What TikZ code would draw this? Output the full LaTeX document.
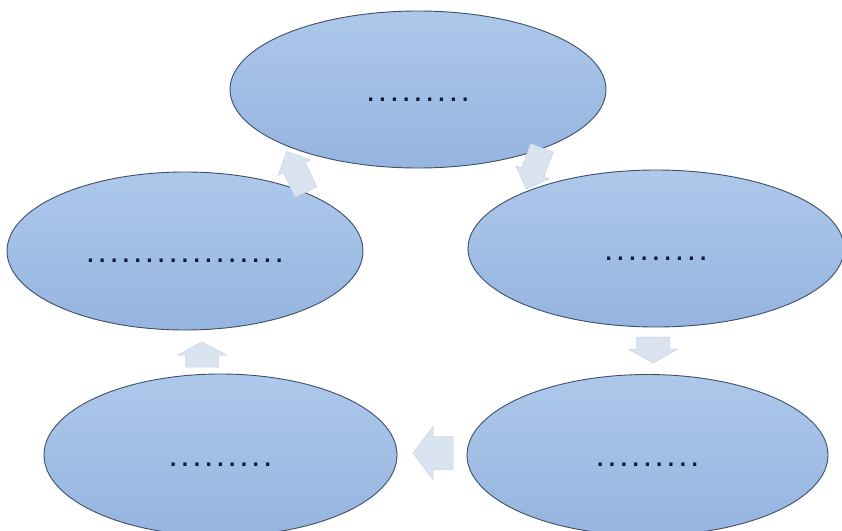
\documentclass[tikz,border=0pt]{standalone}
\usepackage{fontspec}
\newfontfamily\dotfont{DejaVu Sans Mono}
\usetikzlibrary{shapes.geometric}
\definecolor{ellTop}{HTML}{ADC8EA}
\definecolor{ellBot}{HTML}{95B4DF}
\definecolor{ellLine}{HTML}{3E4F68}
\definecolor{dotCol}{HTML}{0E1A33}
\definecolor{arrFill}{HTML}{DAE4F1}
\definecolor{arrLine}{HTML}{C6D4E8}
\tikzset{
  stage/.style={ellipse, draw=ellLine, line width=0.9pt, top color=ellTop,
    bottom color=ellBot, inner sep=0pt, text=dotCol,
    font=\dotfont\bfseries\fontsize{19.6}{20}\selectfont,
    text height=23pt, text depth=0pt},
  blockarrow/.style={fill=arrFill, draw=arrLine, line width=0.5pt, line join=miter}
}
\begin{document}
\begin{tikzpicture}[x=1pt,y=-1pt]
\useasboundingbox (0,0) rectangle (842,530);
\fill[white] (0,0) rectangle (842,530);
% stages
\node[stage, minimum width=376pt, minimum height=157pt] (top) at (418,89.5) {.........};
\node[stage, minimum width=376pt, minimum height=157pt] (right) at (656,248.5) {.........};
\node[stage, minimum width=361pt, minimum height=161pt] (botright) at (647.5,455) {.........};
\node[stage, minimum width=353pt, minimum height=162pt] (botleft) at (220.5,455) {.........};
\node[stage, minimum width=356pt, minimum height=158pt] (left) at (185,251) {.................};
% cycle arrows
\begin{scope}[shift={(542,148)}, rotate=-111]
  \draw[blockarrow] (0,-12) -- (26,-12) -- (26,-18) -- (44,0) -- (26,18) -- (26,12) -- (0,12) -- cycle;
\end{scope}
\begin{scope}[shift={(653,337)}, rotate=-90]
  \draw[blockarrow] (0,-16.5) -- (12,-16.5) -- (12,-25) -- (26,0) -- (12,25) -- (12,16.5) -- (0,16.5) -- cycle;
\end{scope}
\begin{scope}[shift={(453,453)}, rotate=180]
  \draw[blockarrow] (0,-16.5) -- (20,-16.5) -- (20,-26.5) -- (40,0) -- (20,26.5) -- (20,16.5) -- (0,16.5) -- cycle;
\end{scope}
\begin{scope}[shift={(202,367)}, rotate=90]
  \draw[blockarrow] (0,-16.5) -- (12,-16.5) -- (12,-24.5) -- (25,0) -- (12,24.5) -- (12,16.5) -- (0,16.5) -- cycle;
\end{scope}
\begin{scope}[shift={(306,192)}, rotate=115.5]
  \draw[blockarrow] (0,-12) -- (27,-12) -- (27,-18) -- (45,0) -- (27,18) -- (27,12) -- (0,12) -- cycle;
\end{scope}
\end{tikzpicture}
\end{document}
